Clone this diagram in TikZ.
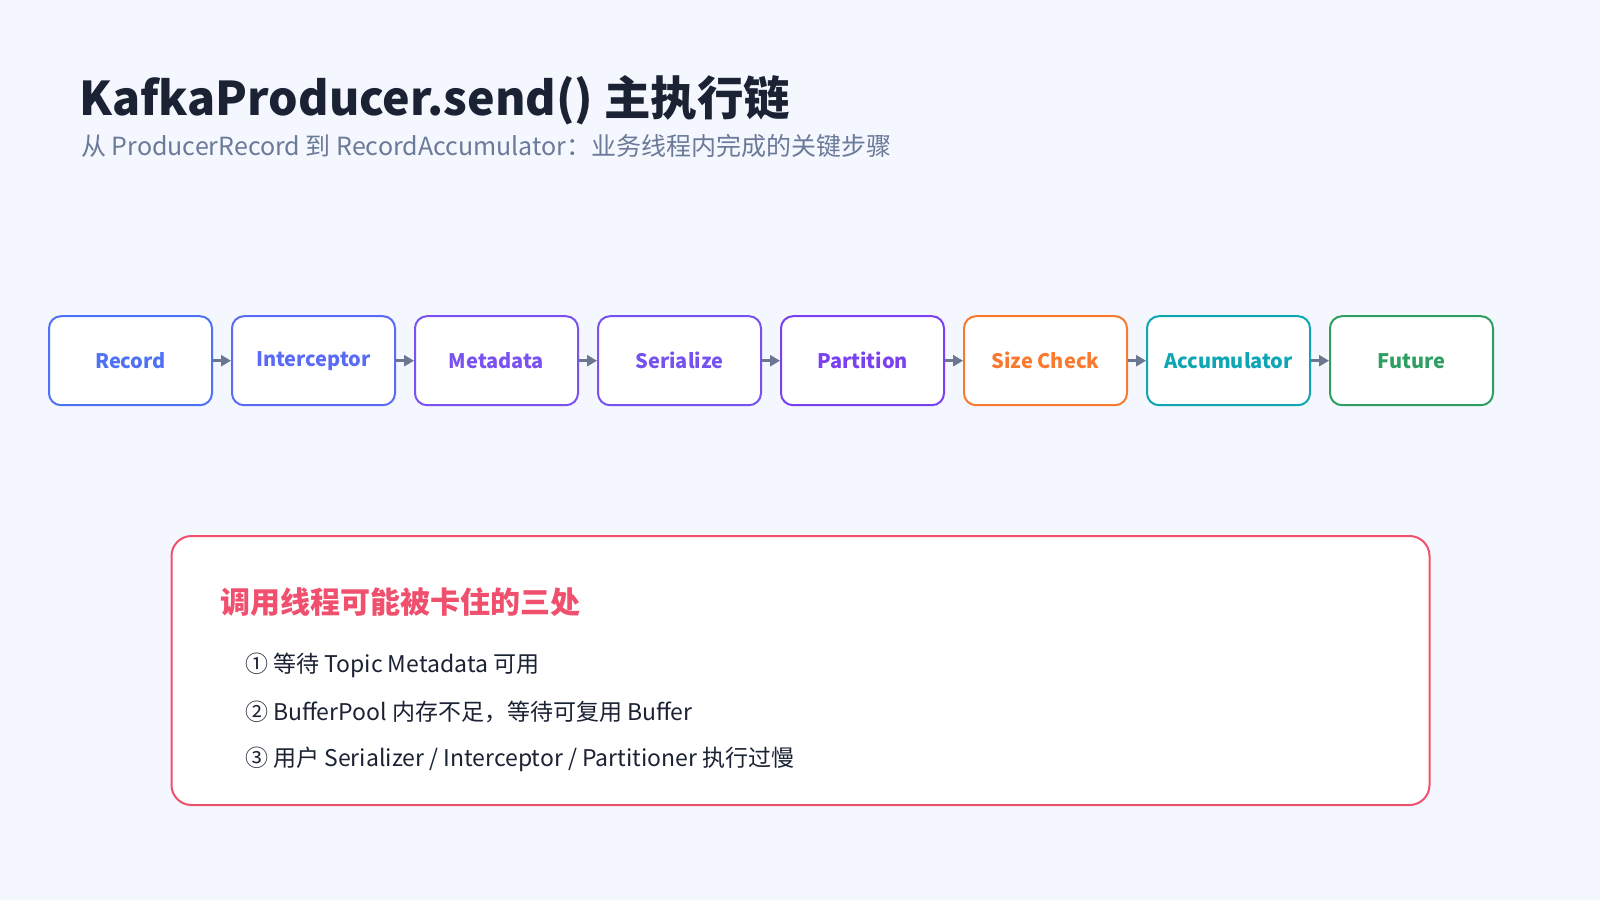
\documentclass[tikz,border=0pt]{standalone}
\usepackage{fontspec}
\setmainfont{Noto Sans CJK SC}
\usetikzlibrary{arrows.meta}
\definecolor{bgc}{HTML}{F4F7FD}
\definecolor{ink}{HTML}{1A2233}
\definecolor{subink}{HTML}{6B7A99}
\definecolor{arrowc}{HTML}{6B7690}
\definecolor{cRec}{HTML}{4F72F5}
\definecolor{cIcp}{HTML}{5A6BF5}
\definecolor{cMeta}{HTML}{7A52F2}
\definecolor{cSer}{HTML}{7652EE}
\definecolor{cPart}{HTML}{7B40F0}
\definecolor{cSize}{HTML}{F97A2E}
\definecolor{cAcc}{HTML}{0EA5B5}
\definecolor{cFut}{HTML}{2E9E62}
\definecolor{warn}{HTML}{F0506E}
\tikzset{
  stage/.style={rounded corners=12pt, fill=white, line width=2pt,
    minimum width=163pt, minimum height=89pt, inner sep=0pt,
    font=\fontsize{20}{24}\selectfont\bfseries},
  flow/.style={-{Triangle[length=10pt,width=11pt]}, draw=arrowc, fill=arrowc, line width=2.8pt},
  item/.style={anchor=west, inner sep=0pt, text=ink, font=\fontsize{23}{28}\selectfont},
}
\begin{document}
\begin{tikzpicture}[
        >=stealth,
        x=1pt, y=-1pt,
        ]
        \fill[bgc] (0,0) rectangle (1600,900);
        \useasboundingbox (0,0) rectangle (1600,900);
        % title
        \node[anchor=base west, inner sep=0pt, text=ink, font=\fontsize{46.5}{54}\selectfont\bfseries] (title) at (79,115) {KafkaProducer.send() 主执行链};
        \node[anchor=base west, inner sep=0pt, text=subink, font=\fontsize{25}{30}\selectfont] (sub) at (81,155) {从 ProducerRecord 到 RecordAccumulator：业务线程内完成的关键步骤};
        % stages
        \foreach \name/\txt/\col [count=\i] in {rec/Record/cRec, icp/Interceptor/cIcp, meta/Metadata/cMeta, ser/Serialize/cSer, part/Partition/cPart, size/Size Check/cSize, acc/Accumulator/cAcc, fut/Future/cFut}
          \node[stage, draw=\col, text=\col] (\name) at ({130.5+183*(\i-1)},360.7) {\txt};
        \foreach \a/\b in {rec/icp, icp/meta, meta/ser, ser/part, part/size, size/acc, acc/fut}
          \draw[flow] (\a) -- (\b);
        % blocking points
        \draw[warn, fill=white, line width=2pt, rounded corners=20pt] (171.5,536) rectangle (1429.5,805);
        \node[anchor=west, inner sep=0pt, text=warn, font=\fontsize{30}{36}\selectfont\bfseries] (warnhead) at (220.5,602) {调用线程可能被卡住的三处};
        \node[item] (p1) at (245,665) {① 等待 Topic Metadata 可用};
        \node[item] (p2) at (245,712) {② BufferPool 内存不足，等待可复用 Buffer};
        \node[item] (p3) at (245,759) {③ 用户 Serializer / Interceptor / Partitioner 执行过慢};
\end{tikzpicture}
\end{document}
